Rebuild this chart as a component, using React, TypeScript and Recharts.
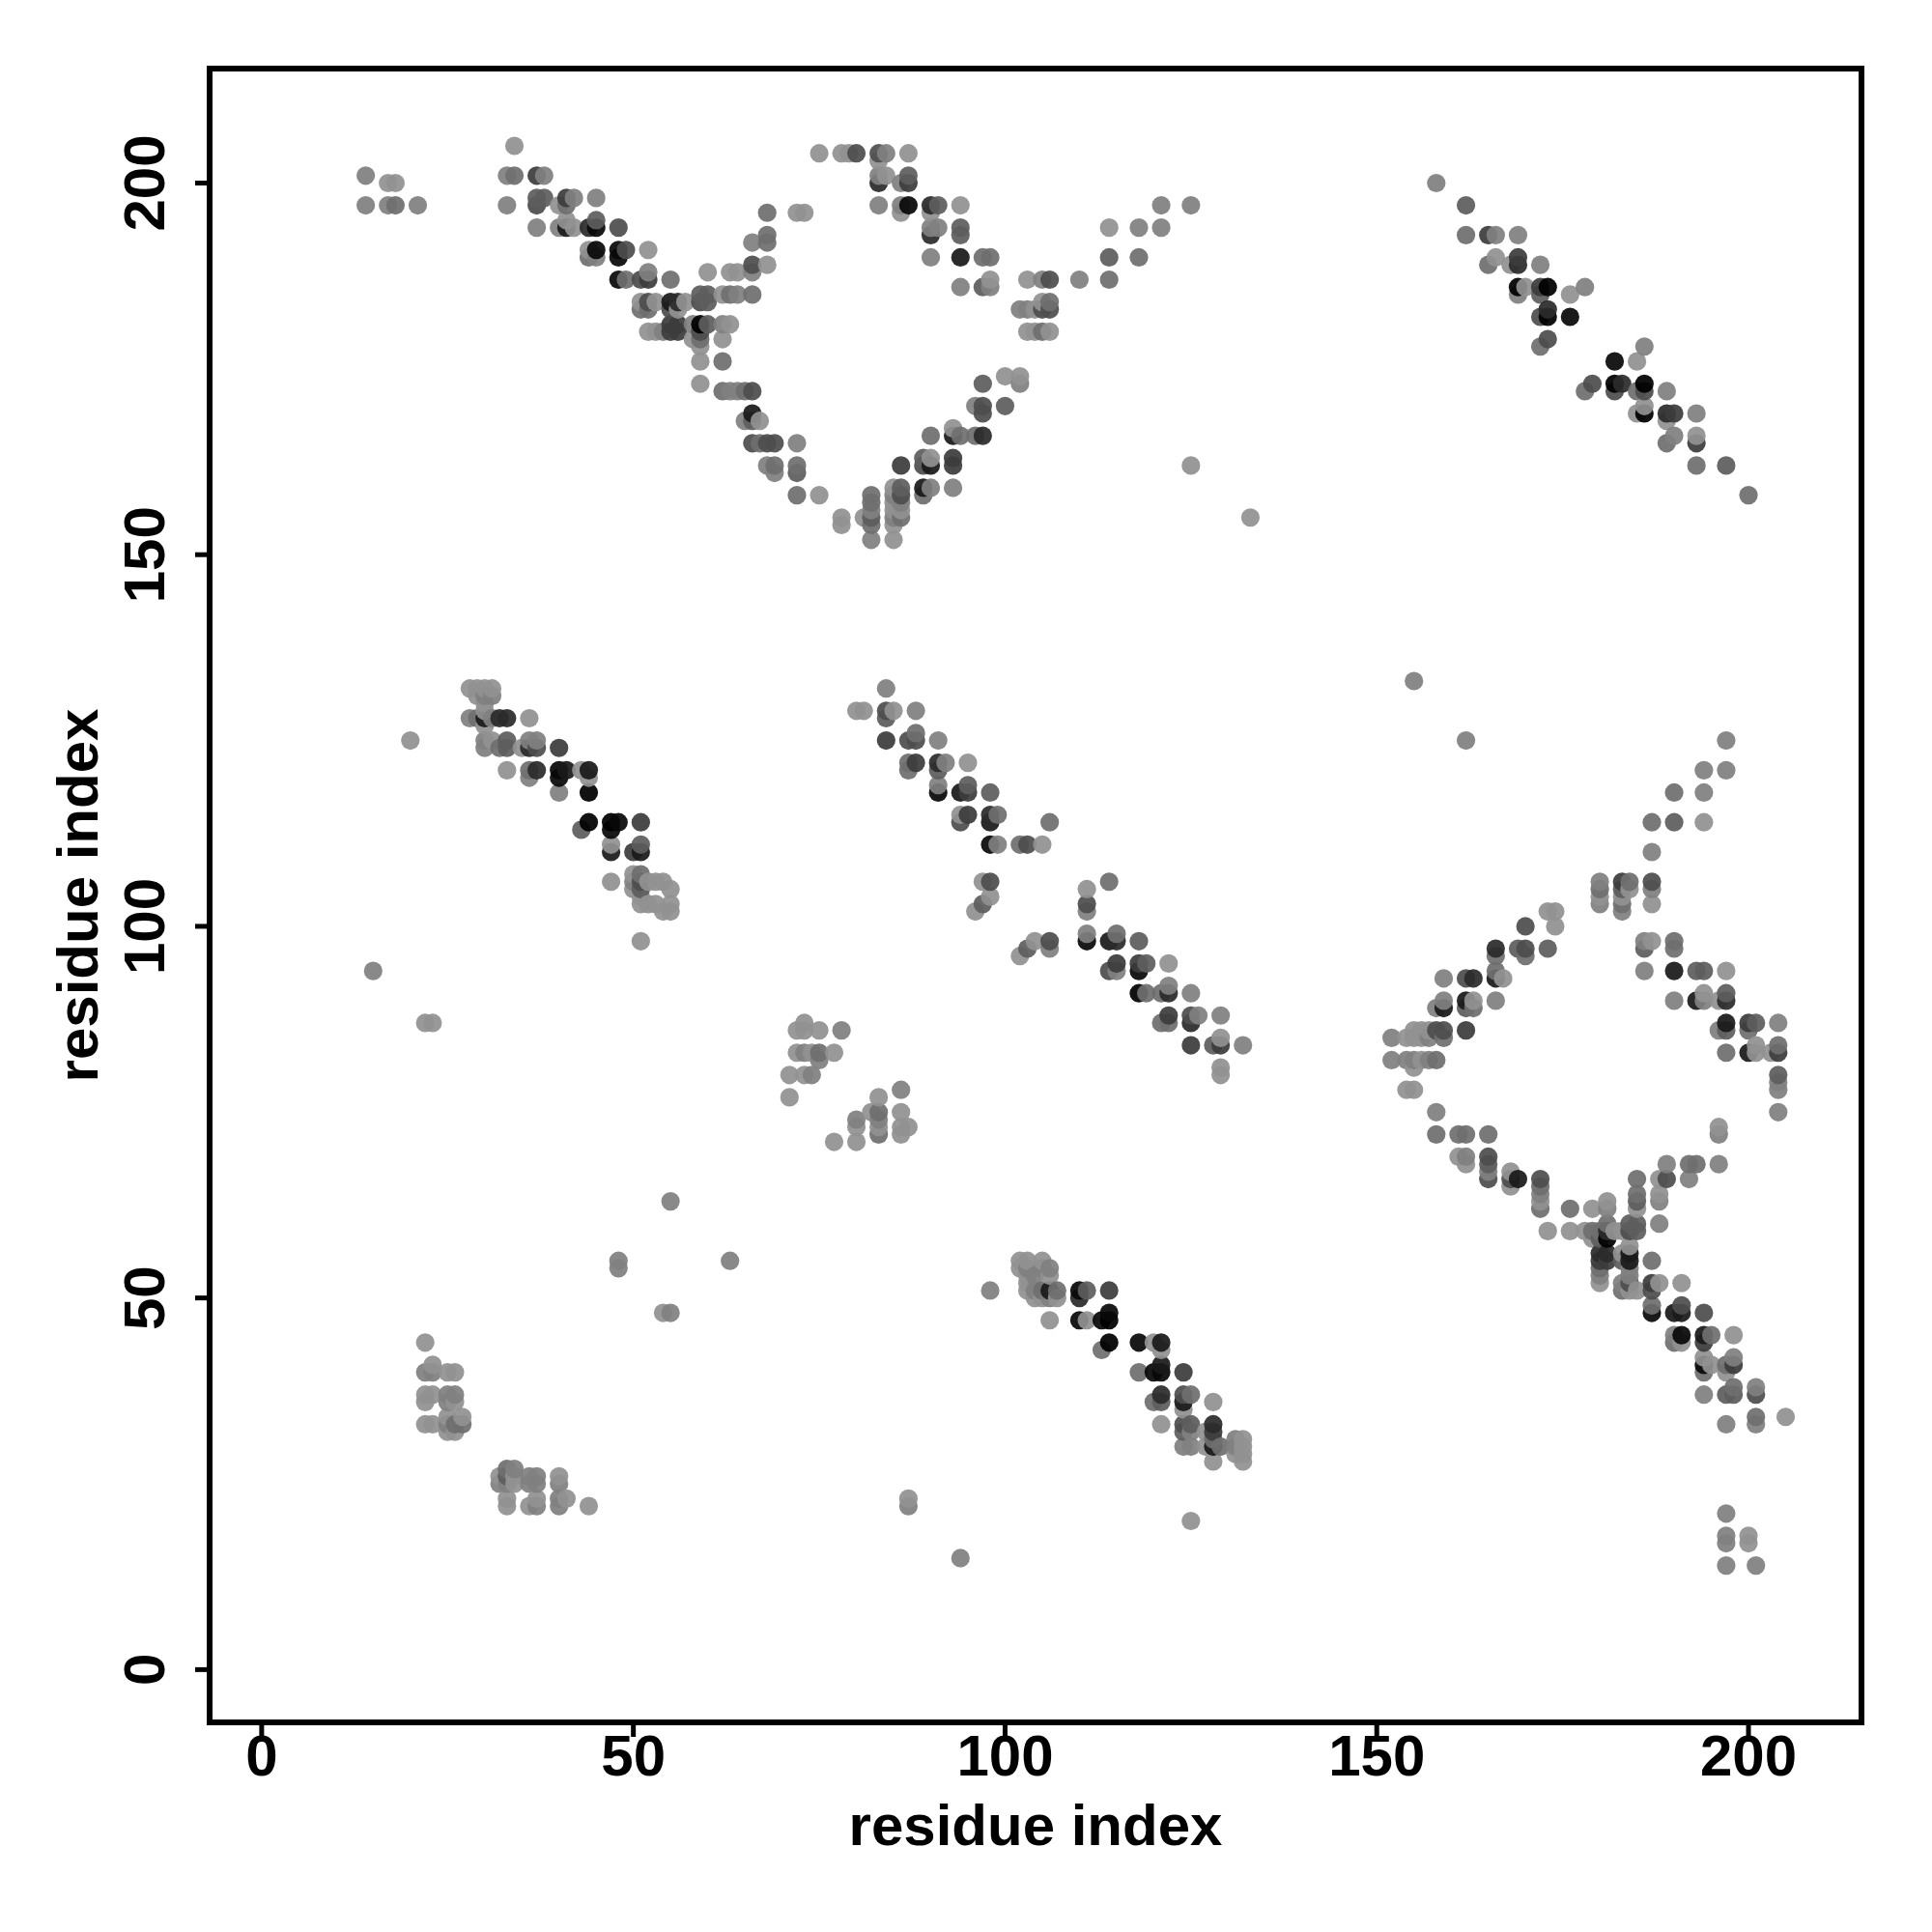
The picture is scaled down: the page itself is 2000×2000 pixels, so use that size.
import { ScatterChart, Scatter, XAxis, YAxis, ReferenceArea } from 'recharts';

// each contact is [residue x, residue y, score 0-9]
const topLeftFar = [[14,201,1],[17,200,0],[18,200,0],[14,197,1],[17,197,1],[18,197,2],[21,197,1]];

const topLeftDiagonal = [
  [34,205,0],[33,201,1],[34,201,2],[37,201,5],[38,201,1],[33,197,1],[37,198,3],[38,198,3],[37,197,4],
  [41,198,5],[42,198,1],[45,198,1],[40,197,0],[41,197,2],[37,194,1],[40,194,1],[41,194,7],[42,194,0],[41,195,0],
  [44,194,6],[45,194,8],[45,195,3],[48,194,4],[44,191,0],[45,191,8],[44,190,2],[45,190,1],[48,191,8],[49,191,4],
  [48,190,8],[52,191,0],[48,187,8],[49,187,2],[51,187,4],[52,187,5],[52,188,1],[55,187,2],
  [60,188,0],[63,188,0],[64,188,0],[66,188,1],[66,189,4],[68,189,0],[66,192,1],[68,192,2],[68,193,2],[68,196,2],
  [72,196,0],[73,196,0],[60,185,3],[60,184,3],[59,184,4],[59,185,3],[62,185,0],[63,185,2],[64,185,1],[66,185,2],
  [51,184,0],[51,183,2],[52,184,4],[52,183,2],[53,184,0],[55,184,7],[56,184,6],[55,183,4],[56,183,0],[57,184,0],
  [52,180,0],[53,180,0],[54,180,1],[55,180,5],[56,180,5],[55,181,5],[56,181,5],
  [58,181,1],[59,181,9],[60,181,3],[62,181,1],[63,181,0],[58,179,0],[59,180,4],[59,179,2],[59,178,0],[62,179,0],
  [59,176,0],[62,176,2],[59,173,0],[62,172,2],[63,172,1],[64,172,1],[65,172,2],[66,172,4],
];

const topDiamondLeft = [
  [66,169,7],[65,168,1],[66,168,3],[67,168,0],[66,165,4],[67,165,2],[68,165,4],[69,165,4],[72,165,1],
  [68,162,1],[69,162,2],[69,161,1],[72,162,2],[72,161,3],[72,158,2],[75,158,0],[78,155,0],[78,154,0],
  [81,155,0],[82,158,2],[82,157,2],[82,156,1],[82,155,3],[82,154,2],[82,152,1],
  [85,159,0],[86,159,3],[85,158,1],[86,158,4],[85,157,0],[86,157,1],[85,156,0],[86,156,0],[85,155,1],[86,155,2],[85,154,0],[85,152,0],
];

const topDiamondRight = [
  [75,204,0],[78,204,0],[79,204,0],[80,204,4],[83,204,4],[84,204,1],[87,204,0],[83,203,0],[83,201,1],[84,201,0],
  [83,200,6],[86,200,1],[87,200,5],[87,201,3],[83,197,1],[86,197,1],[87,197,8],[86,196,0],[90,197,6],[91,197,3],
  [94,197,0],[90,196,0],[90,194,1],[91,194,1],[90,193,6],[94,194,3],[94,193,3],[90,190,1],[94,190,7],[97,190,2],
  [98,190,2],[94,186,1],[97,186,3],[98,187,0],[98,186,1],[103,187,0],[105,187,1],[106,187,4],[110,187,1],[114,187,2],
  [114,190,3],[118,190,2],[114,194,0],[118,194,1],[121,194,1],[121,197,1],[125,197,1],
  [102,183,1],[103,183,1],[104,183,0],[105,183,4],[106,183,4],[105,184,0],[106,184,2],[103,180,0],[104,180,0],[105,180,2],[106,180,0],
  [100,174,0],[102,174,0],[102,173,1],[97,173,3],[96,170,1],[97,170,4],[97,169,4],[100,170,3],
  [93,167,0],[94,166,2],[93,166,7],[96,166,2],[97,166,6],[90,166,2],[86,162,5],[89,163,3],[90,163,0],[89,162,4],[90,162,7],
  [93,163,5],[93,162,5],[89,159,7],[90,159,1],[89,158,2],[93,159,1],[125,162,0],[133,155,0],
];

const topRightDiagonal = [
  [158,200,1],[162,197,3],[162,193,2],[165,193,5],[166,193,1],[169,193,1],[166,190,0],[165,189,2],[168,189,0],[169,190,5],
  [169,189,6],[172,189,1],[169,186,9],[170,186,0],[169,185,1],[172,186,5],[173,186,9],[172,185,3],[176,185,0],[178,186,1],
  [172,182,4],[173,182,9],[173,183,6],[176,182,8],[172,178,2],[173,179,4],[186,178,1],[185,176,0],[182,176,8],
  [178,172,2],[179,173,4],[182,173,9],[182,172,4],[183,173,6],[185,172,2],[186,173,9],[186,172,4],[189,172,1],
  [185,169,0],[186,169,9],[186,170,0],[189,169,6],[190,169,5],[189,168,0],[193,169,1],[189,165,2],[190,166,1],
  [193,165,5],[193,166,0],[193,162,2],[197,162,3],[200,158,2],
];

const midLeftDiagonal = [
  [20,125,0],[28,132,0],[29,132,0],[30,132,0],[31,132,0],[29,131,0],[30,131,1],[31,131,1],[30,130,0],[30,129,0],
  [28,128,1],[29,128,2],[30,128,7],[30,127,0],[31,128,1],[32,128,6],[33,128,6],[36,128,0],[30,125,1],[30,124,1],
  [31,125,0],[32,124,2],[33,125,3],[33,124,3],[35,124,0],[36,125,1],[36,124,6],[37,125,1],[37,124,4],[40,124,5],
  [33,121,0],[36,121,2],[37,121,6],[36,120,1],[40,121,8],[40,120,8],[41,121,7],[43,121,0],[44,121,7],[44,120,0],
  [40,118,1],[44,118,9],[43,113,3],[44,114,9],[47,114,9],[48,114,8],[47,113,8],[51,114,5],[47,111,0],[47,110,7],
  [50,110,5],[51,110,7],[51,111,3],[47,106,0],[50,107,0],[51,107,2],[50,106,1],[51,106,4],[50,105,0],[51,105,3],
  [52,106,0],[53,106,0],[54,106,0],[55,105,0],[51,104,0],[51,103,0],[52,103,0],[53,103,0],[54,102,0],[55,102,0],[55,103,0],[51,98,0],
];

const midCentreDiagonal = [
  [84,132,1],[80,129,0],[81,129,0],[84,129,4],[85,129,0],[84,128,3],[88,129,1],[84,125,5],[87,125,4],[88,125,4],[88,126,2],[91,125,1],
  [87,122,2],[87,121,2],[88,122,5],[91,122,6],[91,121,3],[92,122,1],[95,122,0],[91,119,1],[91,118,8],[94,118,7],[95,119,3],[95,118,5],[98,118,3],
  [94,115,0],[94,114,4],[95,115,5],[98,115,6],[98,114,7],[99,115,2],[106,114,2],[98,111,8],[99,111,1],[102,111,2],[103,111,4],[105,111,0],
  [97,106,0],[98,106,4],[98,104,0],[97,103,3],[96,102,0],[111,105,0],[114,106,2],[111,103,4],[111,102,1],[102,96,0],[103,97,3],[104,98,0],[106,98,4],[106,97,1],
  [111,99,1],[111,98,8],[114,98,7],[115,98,6],[115,99,2],[118,98,3],[114,94,4],[115,94,1],[115,95,5],[118,95,5],[118,94,8],[119,95,3],[122,95,0],
  [118,91,9],[119,91,2],[121,91,2],[122,91,6],[122,92,1],[125,91,1],[121,87,2],[122,88,5],[122,87,2],[125,88,4],[125,87,6],[126,88,1],[129,88,1],
  [125,84,5],[128,84,3],[129,84,5],[129,85,0],[132,84,1],[129,81,0],[129,80,0],
];

const midSmallCluster = [
  [72,86,0],[73,87,0],[73,86,0],[75,86,0],[78,86,1],[72,83,0],[73,83,1],[74,83,0],[75,83,2],[75,82,1],[77,83,0],
  [71,80,0],[73,80,0],[74,80,1],[71,77,0],[83,77,0],[86,78,1],[82,75,0],[83,75,2],[83,74,1],[83,73,0],[83,72,2],
  [80,74,1],[80,73,0],[80,71,0],[77,71,0],[86,75,0],[86,73,0],[86,72,0],[87,73,0],
];

const rightDiamondTop = [
  [162,125,1],[197,125,1],[194,121,1],[197,121,1],[190,118,2],[194,118,1],[187,114,2],[190,114,3],[194,114,0],[187,110,1],
  [180,106,1],[180,105,2],[180,104,0],[180,103,1],[183,106,5],[184,106,2],[183,105,3],[184,105,0],[183,104,0],[183,103,2],[183,102,1],
  [187,106,4],[187,105,1],[187,103,0],[173,102,0],[174,102,0],[174,100,0],[170,100,4],[166,97,6],[166,96,2],[169,97,3],[170,97,4],[170,96,2],[173,97,3],
  [166,94,2],[166,93,7],[167,93,0],[159,93,1],[162,93,4],[163,93,6],[158,89,1],[159,90,1],[159,89,7],[162,90,7],[163,90,0],[162,89,3],[163,89,2],[166,90,1],
  [158,86,4],[159,86,4],[162,86,5],[155,86,0],[156,86,0],[157,86,0],[154,85,0],[155,85,0],[156,85,0],[157,85,1],[159,85,2],
  [152,85,1],[152,82,1],[154,82,1],[155,82,1],[156,82,0],[157,82,1],[158,82,2],[155,81,0],[154,78,0],[155,78,0],[158,75,1],
  [186,98,1],[187,98,0],[186,97,3],[190,98,2],[190,97,2],[186,94,1],[190,94,7],[193,94,3],[194,94,3],[197,94,0],
  [190,90,1],[193,90,7],[194,91,0],[194,90,1],[196,90,0],[197,91,3],[197,90,6],[197,87,7],[196,86,1],[197,86,3],[200,87,5],[201,87,3],[200,86,2],[204,87,1],
  [197,83,2],[200,83,7],[201,84,0],[201,83,0],[203,83,0],[204,84,2],[204,83,5],[204,80,3],[204,79,1],[204,78,1],[204,75,1],
];

const rightDiamondBottom = [
  [158,72,2],[161,72,2],[162,72,2],[165,72,2],[161,69,0],[162,69,1],[162,68,0],[165,69,4],[165,68,3],[165,67,1],[165,66,4],
  [168,67,0],[168,66,4],[168,65,0],[169,66,7],[172,66,4],[172,65,2],[172,64,1],[172,63,0],[172,62,2],[176,62,2],[179,62,0],[181,63,0],[181,62,1],
  [173,59,0],[176,59,0],[178,59,0],[179,59,2],[180,59,2],[181,60,2],[181,59,6],[179,58,0],[180,58,3],[181,58,9],[182,59,0],
  [185,66,2],[185,64,2],[185,63,3],[185,62,0],[184,60,3],[185,60,3],[184,59,4],[185,59,3],[183,59,0],[188,66,0],[189,66,4],[189,68,1],
  [188,64,0],[188,63,1],[188,60,1],[192,68,2],[193,68,2],[192,66,1],[196,68,1],[196,73,0],[196,72,1],
  [180,56,6],[181,56,6],[180,55,5],[181,55,5],[180,54,2],[180,53,1],[180,52,0],[183,56,0],[184,57,0],[184,56,7],[184,55,7],[183,55,3],
  [184,54,1],[184,53,1],[183,52,1],[183,51,2],[184,52,4],[184,51,0],[185,51,0],[187,55,2],[187,52,5],[188,52,0],[187,51,4],[191,52,0],
  [187,49,2],[187,48,8],[190,48,7],[191,49,4],[191,48,7],[194,48,4],[190,45,1],[190,44,2],[191,45,8],[191,44,0],[194,45,7],[194,44,5],[195,45,2],[198,45,0],
  [194,42,0],[195,41,0],[194,41,8],[194,40,2],[197,41,2],[198,42,1],[198,41,5],[197,40,0],[194,37,1],[197,37,3],[198,38,2],[198,37,3],[201,38,1],[201,37,4],
  [197,33,1],[201,34,2],[201,33,1],[205,34,0],[197,21,1],[197,18,1],[197,17,1],[200,18,0],[200,17,0],[197,14,1],[201,14,1],
];

const lowCentreDiagonal = [
  [98,51,1],[102,55,0],[103,55,0],[102,54,0],[103,54,1],[105,55,0],[105,54,1],[106,54,1],[106,53,0],[103,53,0],[103,52,0],[103,51,0],
  [104,53,1],[104,51,1],[104,50,0],[105,50,0],[105,51,2],[106,51,7],[106,50,1],[107,51,2],[107,50,0],[106,47,0],
  [110,51,8],[111,51,3],[110,50,6],[114,51,5],[110,47,8],[111,47,0],[113,47,8],[114,48,8],[114,47,9],[113,43,2],[114,44,9],
  [118,44,8],[120,44,0],[121,44,7],[121,43,0],[118,40,2],[120,40,8],[121,41,7],[121,40,8],[124,40,5],[120,36,2],[121,37,6],[121,36,3],
  [124,37,4],[124,36,7],[125,37,2],[124,35,0],[128,36,0],[121,33,0],[124,33,4],[124,32,3],[125,33,3],[125,32,1],[124,30,1],[125,30,1],
  [127,32,0],[127,30,0],[128,33,6],[128,32,5],[128,31,2],[128,30,7],[129,30,2],[128,28,0],[131,31,1],[132,31,0],[131,30,1],[132,30,0],[131,29,0],[132,29,0],[132,28,0],
];

const lowLeftCluster = [
  [22,44,0],[23,41,0],[22,40,1],[23,40,1],[25,40,0],[26,40,0],[22,37,0],[23,37,0],[22,36,0],[25,37,1],[26,37,1],[25,36,1],[26,36,0],
  [22,33,0],[23,33,0],[25,34,0],[25,33,1],[26,33,2],[27,34,0],[27,33,2],[25,32,0],[26,32,0],
  [32,26,0],[33,27,2],[34,27,1],[32,25,1],[33,26,3],[33,25,1],[34,26,0],[34,25,0],[36,26,1],[37,26,1],[36,25,1],[37,25,1],[40,26,0],[40,25,1],
  [33,23,0],[33,22,0],[36,22,0],[37,23,0],[37,22,1],[40,23,1],[40,22,1],[41,23,0],[44,22,0],
];

const scattered = [
  [15,94,1],[22,87,0],[23,87,0],[48,55,1],[48,54,1],[55,63,1],[54,48,0],[55,48,1],[63,55,1],[87,23,0],[87,22,1],[94,15,1],[125,20,0],[155,133,1],
];

const axisTicks = [0, 50, 100, 150, 200];
const xDomain = [-7, 215.2];
const yDomain = [-7.1, 215.4];

const contacts = [
  ...topLeftFar, ...topLeftDiagonal, ...topDiamondLeft, ...topDiamondRight, ...topRightDiagonal,
  ...midLeftDiagonal, ...midCentreDiagonal, ...midSmallCluster, ...rightDiamondTop, ...rightDiamondBottom,
  ...lowCentreDiagonal, ...lowLeftCluster, ...scattered,
]
  .map(([x, y, score]) => ({ x, y, score }))
  .sort((a, b) => a.x - b.x || a.y - b.y);

const fontFamily = '"Liberation Sans", Arial, sans-serif';
const fontSize = 60;

function Dot(props: any) {
  const { cx, cy, payload } = props;
  const g = Math.max(0, 145 - 17 * payload.score);
  return <circle cx={cx} cy={cy} r={9.6} fill={`rgb(${g},${g},${g})`} fillOpacity={0.93} />;
}

function XTick({ x, y, payload }: any) {
  return (
    <text x={x} y={y} dy={38} textAnchor="middle" fontFamily={fontFamily} fontWeight="bold" fontSize={fontSize} fill="#000">
      {payload.value}
    </text>
  );
}

function YTick({ x, y, payload }: any) {
  return (
    <text x={x - 30} y={y} textAnchor="middle" transform={`rotate(-90 ${x - 30} ${y})`} fontFamily={fontFamily} fontWeight="bold" fontSize={fontSize} fill="#000">
      {payload.value}
    </text>
  );
}

export default function App() {
  return (
    <div style={{ position: 'absolute', left: 0, top: 0, width: 2000, height: 2000, background: '#fff' }}>
      <ScatterChart width={2000} height={2000} margin={{ top: 71, right: 73, bottom: 0, left: 0 }}>
        <XAxis
          type="number"
          dataKey="x"
          domain={xDomain}
          ticks={axisTicks}
          allowDataOverflow
          height={217}
          axisLine={false}
          tickLine={{ stroke: '#000', strokeWidth: 5 }}
          tickSize={15}
          tick={<XTick />}
          label={{ value: 'residue index', position: 'insideBottom', offset: 90, fontFamily, fontWeight: 'bold', fontSize, fill: '#000' }}
        />
        <YAxis
          type="number"
          dataKey="y"
          domain={yDomain}
          ticks={axisTicks}
          allowDataOverflow
          width={217}
          axisLine={false}
          tickLine={{ stroke: '#000', strokeWidth: 5 }}
          tickSize={15}
          tick={<YTick />}
          label={{ value: 'residue index', angle: -90, position: 'insideLeft', offset: 80, fontFamily, fontWeight: 'bold', fontSize, fill: '#000', style: { textAnchor: 'middle' } }}
        />
        <Scatter data={contacts} shape={<Dot />} isAnimationActive={false} />
        <ReferenceArea x1={xDomain[0]} x2={xDomain[1]} y1={yDomain[0]} y2={yDomain[1]} fill="none" stroke="#000" strokeWidth={6} />
      </ScatterChart>
    </div>
  );
}
